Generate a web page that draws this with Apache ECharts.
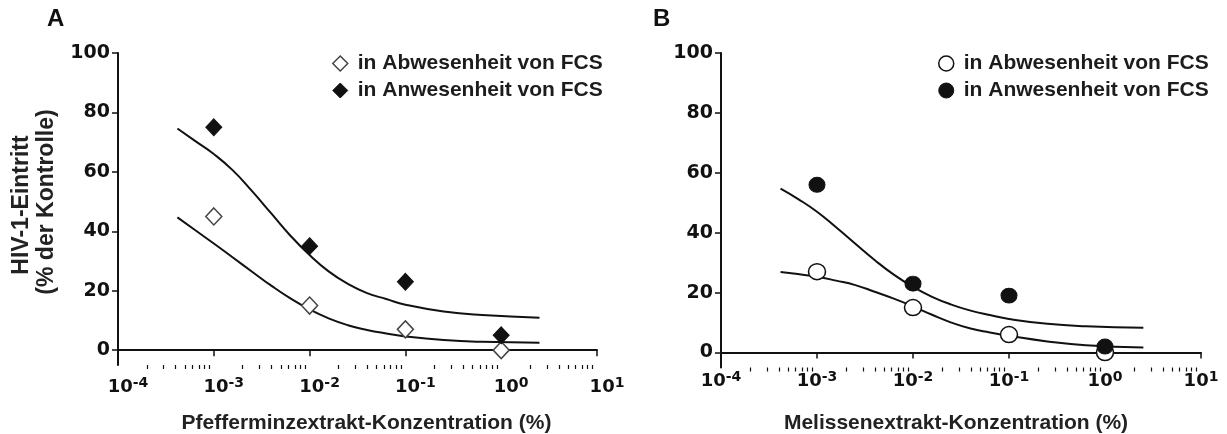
<!DOCTYPE html>
<html>
<head>
<meta charset="utf-8">
<script src="https://cdn.jsdelivr.net/npm/echarts@6/dist/echarts.min.js"></script>
<style>
  html, body { margin: 0; padding: 0; background: #fff; }
  #chart { width: 1227px; height: 434px; }
</style>
</head>
<body>
<div id="chart"></div>
<script>
// Measured concentrations (%)
const concentrations = [0.001, 0.01, 0.1, 1];

// Panel A: peppermint extract, HIV-1 entry (% of control)
const pepAbsent = [45, 15, 7, 0];
const pepPresent = [75, 35, 23, 5];

// Panel B: lemon balm extract
const melAbsent = [27, 15, 6, 0];
const melPresent = [56, 23, 19, 2];

// Fitted dose-response curves, sampled along the concentration axis
const fitConc = [4.17e-4, 6.31e-4, 1e-3, 1.58e-3, 2.51e-3, 3.98e-3, 6.31e-3, 1e-2,
                 1.58e-2, 2.51e-2, 3.98e-2, 6.31e-2, 0.1, 0.251, 0.631, 2.51];
const pepPresentFit = [74.6, 70.5, 66, 60.5, 53.5, 46, 38.5, 32, 26.5, 22.3, 19.2, 17.2, 15.3, 13.0, 11.8, 10.9];
const pepAbsentFit  = [44.7, 40.5, 35.9, 31.2, 26.4, 21.7, 17.4, 13.7, 10.7, 8.4, 6.8, 5.6, 4.6, 3.4, 2.8, 2.5];
const melPresentFit = [54.7, 51.3, 47.0, 41.8, 36.3, 30.9, 26.0, 21.9, 18.6, 16.0, 14.0, 12.5, 11.2, 9.6, 8.8, 8.3];
const melAbsentFit  = [26.9, 26.2, 25.3, 24.0, 22.5, 20.3, 18.0, 15.4, 12.6, 10.0, 8.0, 6.7, 5.6, 3.7, 2.4, 1.7];

// Axis ticks and labels
const yTicks = [0, 20, 40, 60, 80, 100];
const xMajorTicks = [1e-4, 1e-3, 1e-2, 1e-1, 1, 10];
const xExponents = ['-4', '-3', '-2', '-1', '0', '1'];
const minorMultipliers = [2, 3, 4, 5, 6, 7, 8, 9];

const legendNames = ['in Abwesenheit von FCS', 'in Anwesenheit von FCS'];
const xTitles = ['Pfefferminzextrakt-Konzentration (%)', 'Melissenextrakt-Konzentration (%)'];
const yTitleLines = ['HIV-1-Eintritt', '(% der Kontrolle)'];

const xMinorTicks = [];
xMajorTicks.slice(0, -1).forEach(d => minorMultipliers.forEach(m => xMinorTicks.push(d * m)));

const INK = '#111111';
const NUM_FONT = 'DejaVu Sans';
const TXT_FONT = 'Liberation Sans';

function pairs(xs, ys) { return xs.map((x, i) => [x, ys[i]]); }

function expLabel(v) {
  const i = Math.round(Math.log10(v)) + 4;
  return xExponents[i];
}

function majorXAxis(gridIndex, name, labelMargin, spacer, nameGap, namePad) {
  return {
    type: 'log', logBase: 10, gridIndex, min: 1e-4, max: 10, position: 'bottom',
    name, nameLocation: 'middle', nameGap,
    nameTextStyle: { fontFamily: TXT_FONT, fontWeight: 'bold', fontSize: 21, color: '#222', padding: namePad },
    axisLine: { show: true, lineStyle: { color: INK, width: 2 } },
    axisTick: { show: true, length: 6, lineStyle: { color: INK, width: 1.5 }, customValues: xMajorTicks },
    axisLabel: {
      show: true, margin: labelMargin, customValues: xMajorTicks,
      formatter: v => '{sp|}{b|10}{s|' + expLabel(v) + '}',
      rich: {
        sp: { width: spacer },
        b: { fontFamily: NUM_FONT, fontWeight: 'bold', fontSize: 18, color: INK, lineHeight: 20, verticalAlign: 'bottom' },
        s: { fontFamily: NUM_FONT, fontWeight: 'bold', fontSize: 14, color: INK, lineHeight: 14, verticalAlign: 'top' }
      }
    },
    splitLine: { show: false },
    minorTick: { show: false }
  };
}

function minorXAxis(gridIndex) {
  return {
    type: 'log', logBase: 10, gridIndex, min: 1e-4, max: 10, position: 'bottom',
    axisLine: { show: false },
    axisTick: { show: true, length: 4, lineStyle: { color: INK, width: 1.2 }, customValues: xMinorTicks },
    axisLabel: { show: false },
    splitLine: { show: false }
  };
}

function yAxis(gridIndex) {
  return {
    type: 'value', gridIndex, min: -5, max: 100,
    axisLine: { show: true, lineStyle: { color: INK, width: 2 } },
    axisTick: { show: true, length: 6, lineStyle: { color: INK, width: 1.5 }, customValues: yTicks },
    axisLabel: {
      show: true, margin: 8, customValues: yTicks,
      fontFamily: NUM_FONT, fontWeight: 'bold', fontSize: 19, color: INK
    },
    splitLine: { show: false }
  };
}

function fitLine(name, xi, yi, ys) {
  return {
    name, type: 'line', xAxisIndex: xi, yAxisIndex: yi,
    data: pairs(fitConc, ys), smooth: 0.5, showSymbol: false, symbol: 'none',
    lineStyle: { color: INK, width: 2, opacity: 1 }, z: 2, silent: true
  };
}

function points(name, xi, yi, ys, symbol, size, filled) {
  return {
    name, type: 'scatter', xAxisIndex: xi, yAxisIndex: yi,
    data: pairs(concentrations, ys), symbol, symbolSize: size,
    itemStyle: filled
      ? { color: INK, borderColor: INK, borderWidth: 1, opacity: 1 }
      : { color: '#ffffff', borderColor: symbol === 'diamond' ? '#444' : INK, borderWidth: 1.5, opacity: 1 },
    z: filled ? 4 : 3
  };
}

const legendText = { fontFamily: TXT_FONT, fontWeight: 'bold', fontSize: 21, color: '#1c1c1c', padding: [0, 0, 0, 5] };

const option = {
  animation: false,
  backgroundColor: '#ffffff',
  grid: [
    { left: 118, right: 630, top: 53, bottom: 69, outerBoundsMode: 'none', containLabel: false },
    { left: 721, right: 26, top: 53, bottom: 66.5, outerBoundsMode: 'none', containLabel: false }
  ],
  xAxis: [
    majorXAxis(0, xTitles[0], 11, 20, 48, [0, 0, 0, 18]),
    minorXAxis(0),
    majorXAxis(1, xTitles[1], 3, 0, 45, [0, 10, 0, 0]),
    minorXAxis(1)
  ],
  yAxis: [yAxis(0), yAxis(1)],
  legend: [
    {
      left: 332, top: 53, padding: 0, orient: 'vertical', itemGap: 6, itemWidth: 15, itemHeight: 15,
      selectedMode: false, textStyle: legendText,
      data: [
        { name: legendNames[0], icon: 'diamond', itemStyle: { color: '#fff', borderColor: '#444', borderWidth: 1.5, opacity: 1 } },
        { name: legendNames[1], icon: 'diamond', itemStyle: { color: INK, borderColor: INK, borderWidth: 1, opacity: 1 } }
      ]
    },
    {
      left: 938, top: 53, padding: 0, orient: 'vertical', itemGap: 6, itemWidth: 15, itemHeight: 15,
      selectedMode: false, textStyle: legendText,
      data: [
        { name: legendNames[0], icon: 'circle', itemStyle: { color: '#fff', borderColor: INK, borderWidth: 1.5, opacity: 1 } },
        { name: legendNames[1], icon: 'circle', itemStyle: { color: INK, borderColor: INK, borderWidth: 1, opacity: 1 } }
      ]
    }
  ],
  graphic: [
    { type: 'text', x: 47, y: 19, style: { text: 'A', fontFamily: TXT_FONT, fontWeight: 'bold', fontSize: 24, fill: INK, verticalAlign: 'middle' } },
    { type: 'text', x: 653, y: 19, style: { text: 'B', fontFamily: TXT_FONT, fontWeight: 'bold', fontSize: 24, fill: INK, verticalAlign: 'middle' } },
    { type: 'text', x: 22, y: 205, rotation: Math.PI / 2,
      style: { text: yTitleLines[0], fontFamily: TXT_FONT, fontWeight: 'bold', fontSize: 23, fill: '#222', align: 'center', verticalAlign: 'middle' } },
    { type: 'text', x: 47, y: 202, rotation: Math.PI / 2,
      style: { text: yTitleLines[1], fontFamily: TXT_FONT, fontWeight: 'bold', fontSize: 23, fill: '#222', align: 'center', verticalAlign: 'middle' } }
  ],
  series: [
    fitLine('fitPepAbsent', 0, 0, pepAbsentFit),
    fitLine('fitPepPresent', 0, 0, pepPresentFit),
    points(legendNames[0], 0, 0, pepAbsent, 'diamond', [16, 17], false),
    points(legendNames[1], 0, 0, pepPresent, 'diamond', [16, 17], true),
    fitLine('fitMelAbsent', 2, 1, melAbsentFit),
    fitLine('fitMelPresent', 2, 1, melPresentFit),
    points(legendNames[0], 2, 1, melAbsent, 'circle', [17, 16], false),
    points(legendNames[1], 2, 1, melPresent, 'circle', [16, 15], true)
  ]
};

const chart = echarts.init(document.getElementById('chart'), null, { renderer: 'canvas' });
chart.setOption(option);
</script>
</body>
</html>
